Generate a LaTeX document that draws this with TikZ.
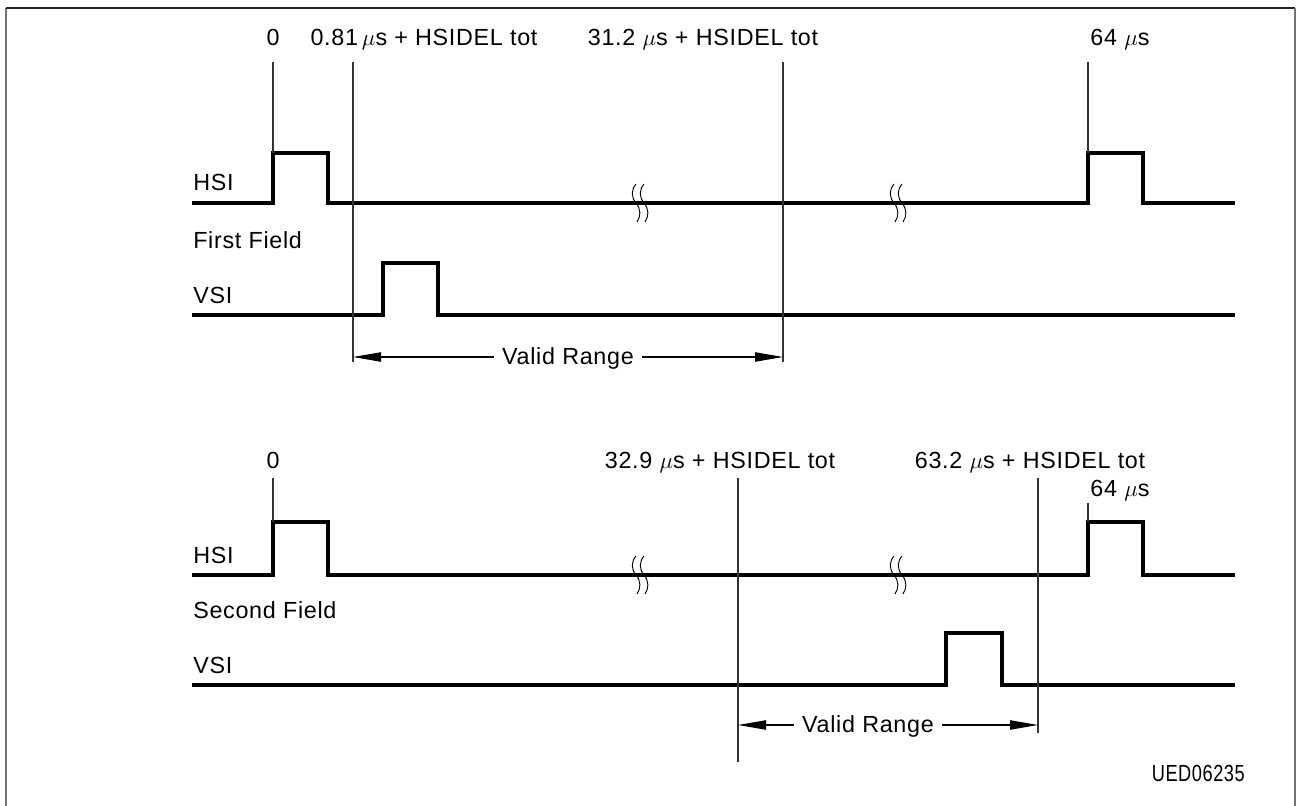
\documentclass[tikz,border=0pt]{standalone}
\usepackage{graphicx}
\usepackage{fontspec}
\setmainfont{Liberation Sans}[LetterSpace=3]
\usetikzlibrary{arrows.meta}
\begin{document}
\begin{tikzpicture}[x=0.75pt,y=-0.75pt,
  sig/.style={line width=3pt, line join=miter, line cap=butt},
  guide/.style={line width=0.8pt, black!80},
  lbl/.style={font=\fontsize{17.5}{20}\selectfont, inner sep=0pt},
  rlbl/.style={lbl, inner xsep=6pt},
  brk/.style={line width=0.7pt},
  rng/.style={line width=0.8pt, -{Triangle[length=21pt,width=7pt]}},
  frameside/.style={line width=1.5pt, black!55},
  frametop/.style={line width=1.5pt, black!85},
  brkpic/.pic={
    \draw[brk] (4,-19) .. controls (-1,-13) and (-1,-6) .. (4,0) .. controls (9,6) and (9,13) .. (5,19);
    \draw[brk] (12,-19) .. controls (7,-13) and (7,-6) .. (12,0) .. controls (17,6) and (17,13) .. (13,19);
  }
]
\useasboundingbox (0,0) rectangle (1297,806);
\fill[white] (0,0) rectangle (1297,806);
% frame
\coordinate (fbl) at (6,806);
\coordinate (ftl) at (6,8);
\coordinate (ftr) at (1295,8);
\coordinate (fbr) at (1295,806);
\draw[frameside] (fbl) -- (ftl);
\draw[frametop] (ftl) -- (ftr);
\draw[frameside] (ftr) -- (fbr);

% ---------- First field ----------
\node[lbl, anchor=base] (t0) at (273,46) {0};
\node[lbl, anchor=base] (t1) at (424,46) {0.81\,$\mu$s + HSIDEL tot};
\node[lbl, anchor=base] (t2) at (703,46) {31.2 $\mu$s + HSIDEL tot};
\node[lbl, anchor=base] (t3) at (1120,46) {64 $\mu$s};

\node[lbl, anchor=base west] (hsiA) at (193,191) {HSI};
\node[lbl, anchor=base west] (ffA) at (193,248) {First Field};
\node[lbl, anchor=base west] (vsiA) at (193,303) {VSI};

\draw[sig] (192,203) -- (273,203) -- (273,153) -- (328,153) -- (328,203) -- (1088,203) -- (1088,153) -- (1143,153) -- (1143,203) -- (1235,203);
\draw[sig] (192,315) -- (383,315) -- (383,263) -- (438,263) -- (438,315) -- (1235,315);
\pic at (632,203) {brkpic};
\pic at (890,203) {brkpic};

\coordinate (g0a) at (273,62);   \coordinate (g0b) at (273,153);
\coordinate (g1a) at (353,62);   \coordinate (g1b) at (353,362);
\coordinate (g2a) at (783,62);   \coordinate (g2b) at (783,362);
\coordinate (g3a) at (1088,62);  \coordinate (g3b) at (1088,153);
\draw[guide] (g0a) -- (g0b);
\draw[guide] (g1a) -- (g1b);
\draw[guide] (g2a) -- (g2b);
\draw[guide] (g3a) -- (g3b);

\coordinate (r1l) at (353,357);
\coordinate (r1r) at (783,357);
\node[rlbl, anchor=base] (vr1) at (568,364) {Valid Range};
\draw[rng] (vr1.west |- r1l) -- (r1l);
\draw[rng] (vr1.east |- r1r) -- (r1r);

% ---------- Second field ----------
\node[lbl, anchor=base] (b0) at (273,468) {0};
\node[lbl, anchor=base] (b1) at (720,468) {32.9 $\mu$s + HSIDEL tot};
\node[lbl, anchor=base] (b2) at (1030,468) {63.2 $\mu$s + HSIDEL tot};
\node[lbl, anchor=base] (b3) at (1120,496) {64 $\mu$s};

\node[lbl, anchor=base west] (hsiB) at (193,563) {HSI};
\node[lbl, anchor=base west] (sfB) at (193,618) {Second Field};
\node[lbl, anchor=base west] (vsiB) at (193,673) {VSI};

\draw[sig] (192,575) -- (273,575) -- (273,522) -- (328,522) -- (328,575) -- (1088,575) -- (1088,522) -- (1143,522) -- (1143,575) -- (1235,575);
\draw[sig] (192,685) -- (946,685) -- (946,633) -- (1002,633) -- (1002,685) -- (1235,685);
\pic at (632,575) {brkpic};
\pic at (890,575) {brkpic};

\coordinate (h0a) at (273,478);   \coordinate (h0b) at (273,522);
\coordinate (h1a) at (738,478);   \coordinate (h1b) at (738,762);
\coordinate (h2a) at (1038,478);  \coordinate (h2b) at (1038,733);
\coordinate (h3a) at (1088,503);  \coordinate (h3b) at (1088,522);
\draw[guide] (h0a) -- (h0b);
\draw[guide] (h1a) -- (h1b);
\draw[guide] (h2a) -- (h2b);
\draw[guide] (h3a) -- (h3b);

\coordinate (r2l) at (738,725);
\coordinate (r2r) at (1038,725);
\node[rlbl, anchor=base] (vr2) at (868,732) {Valid Range};
\draw[rng] (vr2.west |- r2l) -- (r2l);
\draw[rng] (vr2.east |- r2r) -- (r2r);

\node[lbl, anchor=base east] (code) at (1245,781) {\scalebox{0.78}[1]{UED06235}};
\end{tikzpicture}
\end{document}
